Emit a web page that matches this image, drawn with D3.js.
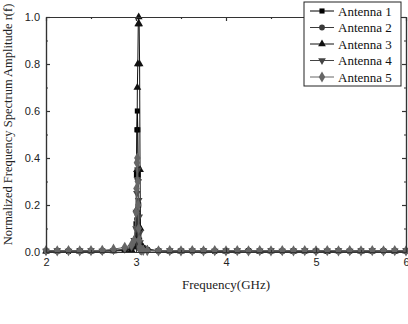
<!DOCTYPE html>
<html>
<head>
<meta charset="utf-8">
<script src="https://cdn.jsdelivr.net/npm/d3@7"></script>
<style>
  body { margin: 0; background: #fff; }
  svg { display: block; }
</style>
</head>
<body>
<svg id="chart" width="408" height="324"></svg>
<script>
// frequency sample points (GHz), shared by all antennas
const freqs = [
  2.0, 2.125, 2.25, 2.375, 2.5, 2.625, 2.75, 2.875,
  2.95, 2.98, 3.0, 3.005, 3.01, 3.015, 3.02, 3.025, 3.03, 3.035, 3.04, 3.045, 3.05, 3.06, 3.08,
  3.125, 3.25, 3.375, 3.5, 3.625, 3.75, 3.875, 4.0, 4.125, 4.25, 4.375, 4.5, 4.625, 4.75, 4.875,
  5.0, 5.125, 5.25, 5.375, 5.5, 5.625, 5.75, 5.875, 6.0
];

const antenna1 = [
  0.004, 0.005, 0.003, 0.006, 0.004, 0.005, 0.006, 0.008,
  0.012, 0.03, 0.12, 0.33, 0.52, 0.60, 0.52, 0.33, 0.20, 0.10, 0.05, 0.03, 0.02, 0.015, 0.018,
  0.01, 0.005, 0.004, 0.006, 0.004, 0.005, 0.003, 0.005, 0.004, 0.006, 0.004, 0.005, 0.004, 0.005,
  0.004, 0.005, 0.003, 0.005, 0.004, 0.006, 0.004, 0.005, 0.004, 0.005
];
const antenna2 = [
  0.005, 0.004, 0.006, 0.004, 0.005, 0.004, 0.007, 0.01,
  0.015, 0.03, 0.06, 0.10, 0.14, 0.16, 0.12, 0.08, 0.05, 0.03, 0.02, 0.012, 0.01, 0.008, 0.007,
  0.006, 0.004, 0.005, 0.004, 0.006, 0.004, 0.005, 0.004, 0.005, 0.004, 0.006, 0.004, 0.005, 0.004,
  0.005, 0.004, 0.006, 0.004, 0.005, 0.004, 0.005, 0.004, 0.006, 0.004
];
const antenna3 = [
  0.003, 0.004, 0.005, 0.003, 0.004, 0.005, 0.004, 0.006,
  0.01, 0.02, 0.05, 0.18, 0.35, 0.70, 0.80, 0.97, 1.00, 0.97, 0.80, 0.35, 0.10, 0.03, 0.02,
  0.012, 0.005, 0.004, 0.003, 0.005, 0.004, 0.005, 0.003, 0.004, 0.005, 0.003, 0.004, 0.005, 0.003,
  0.004, 0.005, 0.003, 0.004, 0.005, 0.003, 0.004, 0.005, 0.003, 0.004
];
const antenna4 = [
  0.004, 0.006, 0.004, 0.005, 0.006, 0.004, 0.006, 0.012,
  0.02, 0.05, 0.10, 0.17, 0.25, 0.31, 0.35, 0.30, 0.22, 0.15, 0.08, 0.04, 0.02, 0.01, 0.008,
  0.006, 0.005, 0.006, 0.004, 0.005, 0.006, 0.004, 0.005, 0.006, 0.004, 0.005, 0.006, 0.004, 0.005,
  0.006, 0.004, 0.005, 0.006, 0.004, 0.005, 0.006, 0.004, 0.005, 0.006
];
const antenna5 = [
  0.006, 0.005, 0.006, 0.005, 0.006, 0.007, 0.012, 0.02,
  0.03, 0.05, 0.17, 0.27, 0.38, 0.40, 0.30, 0.20, 0.10, 0.05, 0.02, 0.012, 0.01, 0.008, 0.007,
  0.006, 0.005, 0.006, 0.005, 0.006, 0.005, 0.006, 0.005, 0.006, 0.005, 0.006, 0.005, 0.006, 0.005,
  0.006, 0.005, 0.006, 0.005, 0.006, 0.005, 0.006, 0.005, 0.006, 0.005
];

const seriesNames = ['Antenna 1', 'Antenna 2', 'Antenna 3', 'Antenna 4', 'Antenna 5'];
const seriesValues = [antenna1, antenna2, antenna3, antenna4, antenna5];
const seriesColors = ['#000000', '#3a3a3a', '#111111', '#444444', '#666666'];
const seriesSymbols = [d3.symbolSquare, d3.symbolCircle, d3.symbolTriangle, d3.symbolTriangle, d3.symbolDiamond];
const seriesRotate = [0, 0, 0, 180, 0];

const xTicks = [2, 3, 4, 5, 6];
const yTicks = [0.0, 0.2, 0.4, 0.6, 0.8, 1.0];

const margin = { top: 17, right: 2, bottom: 72, left: 46 };
const width = 408, height = 324;
const svg = d3.select('#chart');

const x = d3.scaleLinear().domain([2, 6]).range([margin.left, width - margin.right]);
const y = d3.scaleLinear().domain([0, 1]).range([height - margin.bottom, margin.top]);

// data lines and markers
const line = d3.line().x((d, i) => x(freqs[i])).y(d => y(d));
const plot = svg.append('g');
seriesValues.forEach((vals, s) => {
  plot.append('path')
    .attr('d', line(vals))
    .attr('fill', 'none')
    .attr('stroke', seriesColors[s])
    .attr('stroke-width', 1);
  const sym = d3.symbol().type(seriesSymbols[s]).size(s === 4 ? 36 : 26);
  plot.selectAll(null)
    .data(vals)
    .enter()
    .append('path')
    .attr('d', sym)
    .attr('transform', (d, i) => `translate(${x(freqs[i])},${y(d)}) rotate(${seriesRotate[s]})`)
    .attr('fill', seriesColors[s]);
});

// frame and inward ticks
const axisColor = '#333';
const inner = (axis) => axis.tickSizeInner(-4).tickSizeOuter(0).tickPadding(6);

const xMajor = inner(d3.axisBottom(x).tickValues(xTicks).tickFormat(d3.format('d')));
const xMinor = d3.axisBottom(x).tickValues([2.5, 3.5, 4.5, 5.5]).tickSizeInner(-2).tickSizeOuter(0).tickFormat('');
const yMajor = inner(d3.axisLeft(y).tickValues(yTicks).tickFormat(d3.format('.1f')));
const yMinor = d3.axisLeft(y).tickValues([0.1, 0.3, 0.5, 0.7, 0.9]).tickSizeInner(-2).tickSizeOuter(0).tickFormat('');

const plotBottom = y(0), plotTop = y(1), plotLeft = x(2), plotRight = x(6);
svg.append('g').attr('transform', `translate(0,${plotBottom})`).call(xMajor);
svg.append('g').attr('transform', `translate(0,${plotBottom})`).call(xMinor);
svg.append('g').attr('transform', `translate(0,${plotTop})`).call(d3.axisTop(x).tickValues(xTicks).tickSizeInner(-4).tickSizeOuter(0).tickFormat(''));
svg.append('g').attr('transform', `translate(0,${plotTop})`).call(d3.axisTop(x).tickValues([2.5, 3.5, 4.5, 5.5]).tickSizeInner(-2).tickSizeOuter(0).tickFormat(''));
svg.append('g').attr('transform', `translate(${plotLeft},0)`).call(yMajor);
svg.append('g').attr('transform', `translate(${plotLeft},0)`).call(yMinor);
svg.append('g').attr('transform', `translate(${plotRight},0)`).call(d3.axisRight(y).tickValues(yTicks).tickSizeInner(-4).tickSizeOuter(0).tickFormat(''));
svg.append('g').attr('transform', `translate(${plotRight},0)`).call(d3.axisRight(y).tickValues([0.1, 0.3, 0.5, 0.7, 0.9]).tickSizeInner(-2).tickSizeOuter(0).tickFormat(''));

svg.selectAll('.domain, .tick line').attr('stroke', axisColor).attr('stroke-width', 1.2);
svg.selectAll('.tick text')
  .attr('font-family', 'Liberation Sans, Arial, sans-serif')
  .attr('font-size', 11)
  .attr('fill', '#222');

// axis titles
svg.append('text')
  .attr('x', (plotLeft + plotRight) / 2)
  .attr('y', plotBottom + 37)
  .attr('text-anchor', 'middle')
  .attr('font-family', 'Liberation Serif, Times New Roman, serif')
  .attr('font-size', 13)
  .attr('fill', '#222')
  .text('Frequency(GHz)');

svg.append('text')
  .attr('transform', `translate(12,${(plotTop + plotBottom) / 2 - 10}) rotate(-90)`)
  .attr('text-anchor', 'middle')
  .attr('font-family', 'Liberation Serif, Times New Roman, serif')
  .attr('font-size', 12.5)
  .attr('fill', '#222')
  .text('Normalized Frequency Spectrum Amplitude r(f)');

// legend
const legend = svg.append('g').attr('transform', 'translate(304,2)');
legend.append('rect')
  .attr('width', 97).attr('height', 84)
  .attr('fill', '#fff').attr('stroke', '#222').attr('stroke-width', 1);
seriesNames.forEach((name, s) => {
  const ly = 9 + s * 16.5;
  legend.append('line')
    .attr('x1', 6).attr('x2', 30).attr('y1', ly).attr('y2', ly)
    .attr('stroke', seriesColors[s]).attr('stroke-width', 1);
  legend.append('path')
    .attr('d', d3.symbol().type(seriesSymbols[s]).size(s === 4 ? 36 : 26))
    .attr('transform', `translate(18,${ly}) rotate(${seriesRotate[s]})`)
    .attr('fill', seriesColors[s]);
  legend.append('text')
    .attr('x', 34).attr('y', ly + 4.5)
    .attr('font-family', 'Liberation Serif, Times New Roman, serif')
    .attr('font-size', 13)
    .attr('fill', '#111')
    .text(name);
});
</script>
</body>
</html>
